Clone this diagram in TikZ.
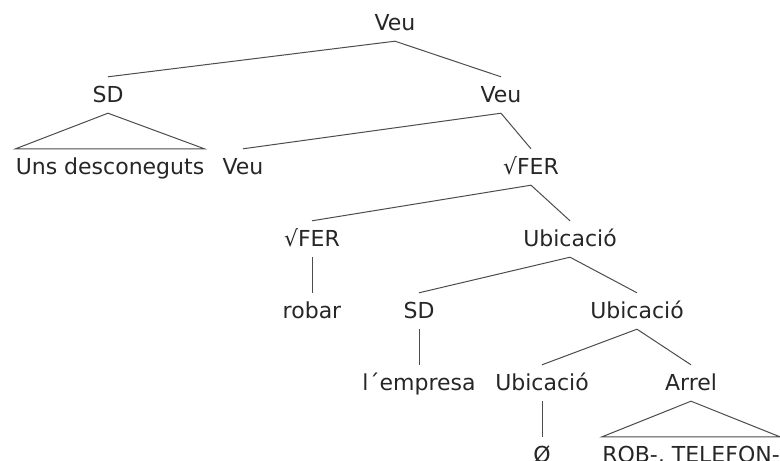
\documentclass[tikz,border=0pt]{standalone}
\usepackage{fontspec}
\setmainfont{DejaVu Sans}
\begin{document}
\begin{tikzpicture}[x=1pt,y=-1pt,
  lab/.style={anchor=base, inner xsep=0pt, inner ysep=9pt, text height=16pt, text depth=2pt,
    font=\fontsize{22}{26}\selectfont, text=black!85},
  edge/.style={line width=1pt, draw=black!70}]
\useasboundingbox (0,0) rectangle (780,461);
\clip (0,0) rectangle (780,461);
\node[lab] (veu1) at (395,30) {Veu};
\node[lab] (sd1) at (108,102) {SD};
\node[lab] (veu2) at (501,102) {Veu};
\node[lab] (uns) at (110,174) {Uns desconeguts};
\node[lab] (veu3) at (243,174) {Veu};
\node[lab] (fer1) at (531,174) {√FER};
\node[lab] (fer2) at (312,246) {√FER};
\node[lab] (ub1) at (570,246) {Ubicació};
\node[lab] (robar) at (312,318) {robar};
\node[lab] (sd2) at (419,318) {SD};
\node[lab] (ub2) at (637,318) {Ubicació};
\node[lab] (emp) at (419,390) {l´empresa};
\node[lab] (ub3) at (542,390) {Ubicació};
\node[lab] (arrel) at (691,390) {Arrel};
\node[lab] (buit) at (542,462) {Ø};
\node[lab] (rob) at (691,462) {ROB-, TELEFON-};
\draw[edge] (veu1.south) -- (sd1.north);
\draw[edge] (veu1.south) -- (veu2.north);
\draw[edge] (sd1.south) -- (uns.north west) -- (uns.north east) -- cycle;
\draw[edge] (veu2.south) -- (veu3.north);
\draw[edge] (veu2.south) -- (fer1.north);
\draw[edge] (fer1.south) -- (fer2.north);
\draw[edge] (fer1.south) -- (ub1.north);
\draw[edge] (fer2.south) -- (robar.north);
\draw[edge] (ub1.south) -- (sd2.north);
\draw[edge] (ub1.south) -- (ub2.north);
\draw[edge] (sd2.south) -- (emp.north);
\draw[edge] (ub2.south) -- (ub3.north);
\draw[edge] (ub2.south) -- (arrel.north);
\draw[edge] (ub3.south) -- (buit.north);
\draw[edge] (arrel.south) -- (rob.north west) -- (rob.north east) -- cycle;
\end{tikzpicture}
\end{document}
